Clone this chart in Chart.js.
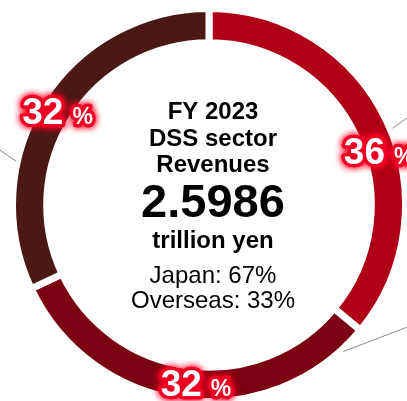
<!DOCTYPE html>
<html lang="en">
<head>
  <meta charset="UTF-8">
  <title>DSS sector revenues FY 2023</title>
  <style>
    html, body { margin: 0; padding: 0; background: #fff; overflow: hidden; }
    .chart-box { position: absolute; left: 0; top: 0; width: 418px; height: 410px; }
  </style>
</head>
<body>
  <div class="chart-box"><canvas id="donut"></canvas></div>
  <script src="https://cdn.jsdelivr.net/npm/chart.js"></script>
  <script>
    // datos
    const segments = ['Segment A', 'Segment B', 'Segment C'];
    const shares = [36, 32, 32];
    const segColors = ['#AF0016', '#7B0011', '#4A1913'];
    const titleLines = ['FY 2023', 'DSS sector', 'Revenues'];
    const totalText = '2.5986';
    const unitText = 'trillion yen';
    const splitLines = ['Japan: 67%', 'Overseas: 33%'];

    const FONT = '"Liberation Sans", Arial, sans-serif';

    // lineas guia (angulo en grados desde arriba, radio relativo al borde exterior)
    const leaders = [
      [282.8, 1.026, 286.7, 1.24],
      [67.3, 1.031, 64.9, 1.27],
      [137.5, 1.03, 117, 1.29]
    ];
    // pequeño ajuste de angulo para las etiquetas
    const labelNudge = [7.7, -3, -0.5];

    function polar(cx, cy, deg, r) {
      const a = (deg - 90) * Math.PI / 180;
      return [cx + Math.cos(a) * r, cy + Math.sin(a) * r];
    }

    const donutExtras = {
      id: 'donutExtras',
      afterDatasetsDraw(chart) {
        const ctx = chart.ctx;
        const arcs = chart.getDatasetMeta(0).data;
        const cx = arcs[0].x, cy = arcs[0].y;
        const outerR = arcs[0].outerRadius - 3.5;
        const innerR = arcs[0].innerRadius + 3.5;
        const midR = (outerR + innerR) / 2 - 1;

        // lineas guia
        ctx.save();
        ctx.strokeStyle = '#8a8a8a';
        ctx.lineWidth = 1;
        leaders.forEach(l => {
          const p1 = polar(cx, cy, l[0], outerR * l[1]);
          const p2 = polar(cx, cy, l[2], outerR * l[3]);
          ctx.beginPath();
          ctx.moveTo(p1[0], p1[1]);
          ctx.lineTo(p2[0], p2[1]);
          ctx.stroke();
        });
        ctx.restore();

        // texto central
        ctx.save();
        ctx.fillStyle = '#000';
        ctx.textAlign = 'center';
        ctx.textBaseline = 'alphabetic';
        const tx = cx + 4;
        ctx.font = 'bold 24px ' + FONT;
        titleLines.forEach((t, i) => ctx.fillText(t, tx, cy - 86 + i * 26.5));
        ctx.font = 'bold 47px ' + FONT;
        ctx.fillText(totalText, tx, cy + 12);
        ctx.font = 'bold 24px ' + FONT;
        ctx.fillText(unitText, tx, cy + 43);
        ctx.font = '24px ' + FONT;
        splitLines.forEach((t, i) => ctx.fillText(t, tx, cy + 78 + i * 25));
        ctx.restore();

        // etiquetas de porcentaje con brillo rojo
        arcs.forEach((arc, i) => {
          const midDeg = ((arc.startAngle + arc.endAngle) / 2) * 180 / Math.PI + 90 + labelNudge[i];
          const p = polar(cx, cy, midDeg, midR);
          const num = String(shares[i]);
          ctx.save();
          ctx.font = 'bold 37px ' + FONT;
          const wNum = ctx.measureText(num).width;
          ctx.font = 'bold 23px ' + FONT;
          const wPct = ctx.measureText('%').width;
          const gap = 9;
          const x0 = p[0] - (wNum + gap + wPct) / 2;
          const base = p[1] + 13;
          const parts = [[num, 'bold 37px ', x0], ['%', 'bold 23px ', x0 + wNum + gap]];
          ctx.textAlign = 'left';
          ctx.textBaseline = 'alphabetic';
          ctx.lineJoin = 'round';
          parts.forEach(pt => {
            ctx.font = pt[1] + FONT;
            ctx.shadowColor = 'rgba(255,0,40,0.9)';
            ctx.shadowBlur = 7;
            ctx.strokeStyle = '#ee0022';
            ctx.lineWidth = 6.5;
            ctx.strokeText(pt[0], pt[2], base);
            ctx.strokeText(pt[0], pt[2], base);
            ctx.shadowBlur = 0;
            ctx.fillStyle = '#fff';
            ctx.fillText(pt[0], pt[2], base);
          });
          ctx.restore();
        });
      }
    };

    new Chart(document.getElementById('donut'), {
      type: 'doughnut',
      data: {
        labels: segments,
        datasets: [{
          data: shares,
          backgroundColor: segColors,
          borderColor: '#ffffff',
          borderWidth: 7,
          borderJoinStyle: 'miter',
          hoverOffset: 0
        }]
      },
      options: {
        responsive: true,
        maintainAspectRatio: false,
        animation: false,
        cutout: '82.6%',
        layout: { padding: { left: 9, right: 9, top: 5, bottom: 5 } },
        plugins: { legend: { display: false }, tooltip: { enabled: false } },
        events: []
      },
      plugins: [donutExtras]
    });
  </script>
</body>
</html>
